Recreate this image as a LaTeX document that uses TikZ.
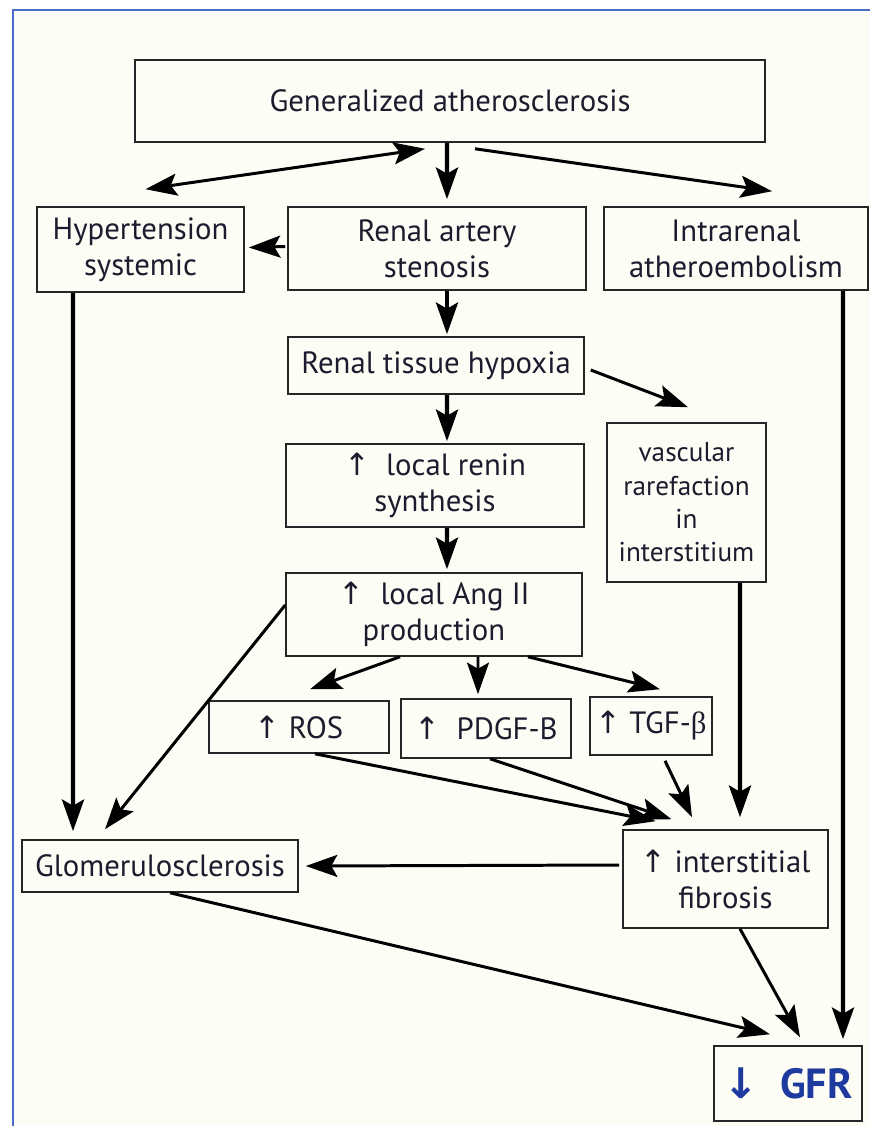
\documentclass[tikz,border=0pt]{standalone}
\usepackage{fontspec}
\setmainfont{PT Sans}
\newfontfamily\symfont{DejaVu Sans}
\newfontfamily\grkfont{Liberation Serif}
\usetikzlibrary{arrows.meta}

\definecolor{cream}{HTML}{FDFDF6}
\definecolor{ink}{HTML}{1C1C2E}
\definecolor{frameblue}{HTML}{4A6CC8}
\definecolor{gfrblue}{HTML}{1E3A9E}

\newcommand{\incr}{{\symfont\char"2191}}
\newcommand{\decr}{{\symfont\char"2193}}

\tikzset{
  box/.style={draw=black!85, line width=0.9pt, fill=cream, text=ink, align=center,
    inner sep=0pt, font=\fontsize{17.5}{20.5}\selectfont},
  arr/.style={-{Stealth[length=18pt,width=12.5pt,inset=3.5pt]}, line width=1.7pt},
  heavy/.style={arr, line width=2.5pt}
}

\begin{document}
\begin{tikzpicture}[x=0.02cm,y=-0.02cm]
  \useasboundingbox (0,0) rectangle (870,1126);
  \fill[white] (0,0) rectangle (870,1126);
  \fill[cream] (13,10) rectangle (870,1126);
  \draw[frameblue, line width=1.2pt] (13,1126) -- (13,10) -- (870,10);

  % boxes
  \node[box, minimum width=12.6cm, minimum height=1.64cm] (gen) at (450,101) {Generalized atherosclerosis};
  \node[box, minimum width=4.14cm, minimum height=1.7cm] (hyper) at (140.5,249.5) {Hypertension\\systemic};
  \node[box, minimum width=5.96cm, minimum height=1.66cm] (sten) at (437,248.5) {Renal artery\\stenosis};
  \node[box, minimum width=5.28cm, minimum height=1.66cm] (intra) at (736,248.5) {Intrarenal\\atheroembolism};
  \node[box, minimum width=5.92cm, minimum height=1.14cm] (hypox) at (436,365.5) {Renal tissue hypoxia};
  \node[box, minimum width=5.96cm, minimum height=1.66cm] (renin) at (435,485.5) {\incr\ \ local renin\\synthesis};
  \node[box, minimum width=3.18cm, minimum height=3.18cm, font=\fontsize{15.5}{19}\selectfont] (vasc) at (686.5,502.5) {vascular\\rarefaction\\in\\interstitium};
  \node[box, minimum width=5.92cm, minimum height=1.66cm] (angii) at (434,614.5) {\incr\ \ local Ang II\\production};
  \node[box, minimum width=3.6cm, minimum height=1.04cm] (ros) at (299,727) {\incr\ ROS};
  \node[box, minimum width=3.4cm, minimum height=1.18cm] (pdgf) at (486,728.5) {\incr\ \ PDGF-B};
  \node[box, minimum width=2.44cm, minimum height=1.16cm] (tgf) at (651,726) {\incr\ TGF-{\grkfont β}};
  \node[box, minimum width=5.52cm, minimum height=1.04cm] (glom) at (160,866) {Glomerulosclerosis};
  \node[box, minimum width=4.1cm, minimum height=1.96cm] (fib) at (725.5,879) {\incr\ interstitial\\fibrosis};
  \node[box, minimum width=2.96cm, minimum height=1.5cm, text=gfrblue, font=\fontsize{24}{27}\selectfont\bfseries] (gfr) at (788,1083.5) {\decr\ \ GFR};

  % connectors
  \draw[arr, {Stealth[length=18pt,width=12.5pt,inset=3.5pt]}-{Stealth[length=18pt,width=12.5pt,inset=3.5pt]}]
    ([xshift=0.1cm,yshift=0.34cm]hyper.north) -- ([xshift=-0.5cm,yshift=-0.12cm]gen.south);
  \draw[heavy] ([xshift=-0.06cm]gen.south) -- ([xshift=0.2cm,yshift=0.14cm]sten.north);
  \draw[arr] ([xshift=0.5cm,yshift=-0.12cm]gen.south) -- ([xshift=0.72cm,yshift=0.3cm]intra.north);
  \draw[arr] ([xshift=-0.04cm,yshift=0.04cm]sten.west) -- ([xshift=0.08cm,yshift=0.04cm]hyper.east);
  \draw[heavy] ([xshift=0.2cm]sten.south) -- ([xshift=0.22cm,yshift=0.04cm]hypox.north);
  \draw[arr] ([xshift=0.12cm,yshift=-0.09cm]hypox.east) -- ([xshift=0.03cm,yshift=0.3cm]vasc.north);
  \draw[heavy] ([xshift=0.22cm]hypox.south) -- ([xshift=0.24cm,yshift=0.04cm]renin.north);
  \draw[heavy] ([xshift=0.24cm]renin.south) -- ([xshift=0.26cm,yshift=0.06cm]angii.north);
  \draw[arr] ([xshift=-0.68cm]angii.south) -- ([xshift=0.22cm,yshift=0.22cm]ros.north);
  \draw[arr] ([xshift=0.88cm]angii.south) -- ([xshift=-0.16cm,yshift=0.08cm]pdgf.north);
  \draw[arr] ([xshift=1.88cm]angii.south) -- ([xshift=0.18cm,yshift=0.14cm]tgf.north);
  \draw[arr] ([yshift=0.19cm]angii.west) -- ([xshift=-1.1cm,yshift=0.2cm]glom.north);
  \draw[heavy] ([xshift=-1.35cm]hyper.south) -- ([xshift=-1.74cm,yshift=0.16cm]glom.north);
  \draw[arr] ([xshift=0.32cm]ros.south) -- ([xshift=-1.4cm,yshift=0.16cm]fib.north);
  \draw[arr] ([xshift=0.08cm]pdgf.south) -- ([xshift=-1.08cm,yshift=0.2cm]fib.north);
  \draw[arr] ([xshift=0.28cm,yshift=-0.1cm]tgf.south) -- ([xshift=-0.67cm,yshift=0.24cm]fib.north);
  \draw[heavy] ([xshift=1.07cm]vasc.south) -- ([xshift=0.29cm,yshift=0.24cm]fib.north);
  \draw[arr] ([xshift=-0.06cm,yshift=0.28cm]fib.west) -- ([xshift=0.14cm]glom.east);
  \draw[heavy] ([xshift=2.14cm]intra.south) -- ([xshift=1.1cm,yshift=0.12cm]gfr.north);
  \draw[arr] ([xshift=0.2cm]glom.south) -- ([xshift=-0.36cm,yshift=0.22cm]gfr.north);
  \draw[arr] ([xshift=0.29cm]fib.south) -- ([xshift=0.24cm,yshift=0.16cm]gfr.north);
\end{tikzpicture}
\end{document}
